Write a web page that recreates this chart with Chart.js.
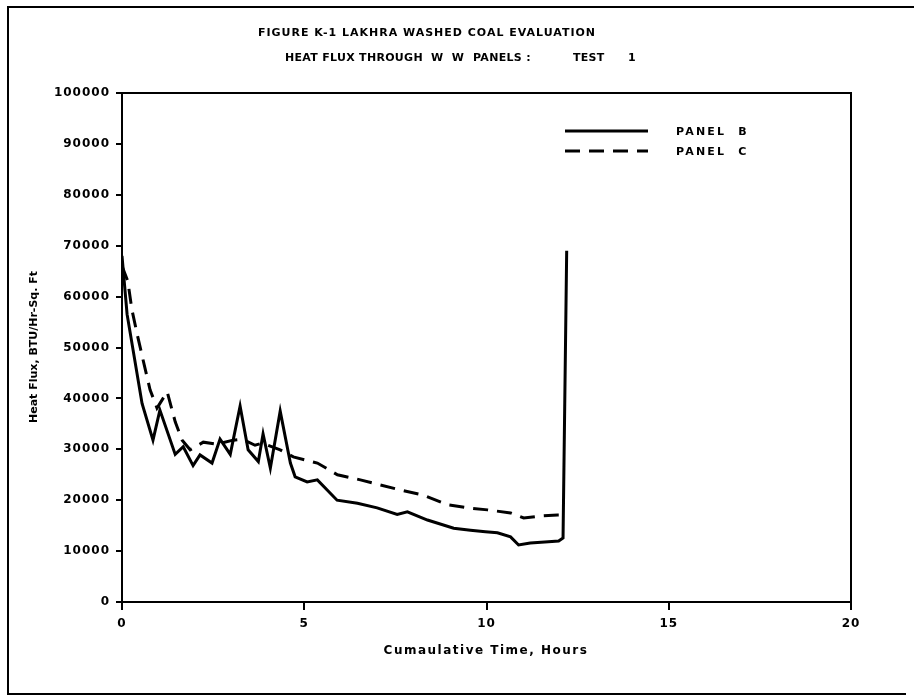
<!DOCTYPE html>
<html>
<head>
<meta charset="utf-8">
<script src="https://cdn.jsdelivr.net/npm/chart.js@4.4.1/dist/chart.umd.min.js"></script>
<style>
  html, body { margin: 0; padding: 0; background: #fff; }
  #c { display: block; }
</style>
</head>
<body>
<canvas id="c" width="914" height="700"></canvas>
<script>
// Heading lines (second line is set in separate words, plotter style)
const titleLine1 = 'FIGURE K-1 LAKHRA WASHED COAL EVALUATION';
const titleLine2 = ['HEAT FLUX THROUGH', 'W  W', 'PANELS :', 'TEST', '1'];
const xTitle = 'Cumaulative Time, Hours';
const yTitle = 'Heat Flux, BTU/Hr-Sq. Ft';
const seriesNames = ['PANEL  B', 'PANEL  C'];

// Axis ticks
const xTicks = [0, 5, 10, 15, 20];
const yTicks = [0, 10000, 20000, 30000, 40000, 50000, 60000, 70000, 80000, 90000, 100000];

// Panel B (solid)
const timesB = [0, 0.14, 0.55, 0.85, 1.04, 1.46, 1.68, 1.95, 2.14, 2.47, 2.69, 2.97, 3.24, 3.46, 3.74,
  3.87, 4.07, 4.34, 4.62, 4.75, 5.08, 5.36, 5.9, 6.46, 7.0, 7.55, 7.83, 8.38, 9.1, 9.56, 9.97, 10.3,
  10.66, 10.88, 11.2, 11.6, 11.98, 12.1, 12.2];
const fluxB = [68000, 56500, 39000, 31800, 37700, 29000, 30500, 26800, 28900, 27300, 32000, 29000, 38500,
  29900, 27600, 33000, 26300, 37500, 27300, 24600, 23600, 24000, 20000, 19400, 18500, 17200, 17700, 16100,
  14500, 14100, 13800, 13600, 12800, 11200, 11600, 11800, 12000, 12600, 69000];

// Panel C (dashed)
const timesC = [0, 0.16, 0.27, 0.41, 0.58, 0.77, 0.96, 1.24, 1.46, 1.65, 1.87, 2.23, 2.6, 3.05, 3.3, 3.65,
  3.85, 4.34, 4.7, 5.36, 5.91, 6.54, 7.09, 7.64, 8.27, 8.93, 9.48, 10.03, 10.66, 11.02, 11.48, 11.95, 12.12];
const fluxC = [66000, 63000, 57500, 52800, 47500, 41700, 38100, 41300, 35400, 31800, 29900, 31400, 31000,
  31800, 32000, 30800, 31200, 29900, 28500, 27300, 25000, 24000, 23000, 22000, 21000, 19100, 18500, 18100,
  17500, 16500, 16900, 17100, 17100];

const INK = '#000';
const DASH = [15, 9];
const FONT = 'DejaVu Sans';

const pairs = (xs, ys) => xs.map((x, i) => ({ x, y: ys[i] }));

// Blocky plotter lettering: slight tracking on all canvas text
const tracking = {
  id: 'tracking',
  beforeLayout(chart) { chart.ctx.letterSpacing = '1px'; },
  beforeDraw(chart) { chart.ctx.letterSpacing = '1px'; }
};

// Plot box, page border, headings, axis titles and legend
const decorations = {
  id: 'decorations',
  afterDraw(chart) {
    const { ctx, chartArea: a } = chart;
    ctx.save();
    ctx.strokeStyle = INK;
    ctx.fillStyle = INK;
    ctx.lineWidth = 2;
    ctx.setLineDash([]);
    ctx.strokeRect(a.left, a.top, a.right - a.left, a.bottom - a.top);

    // page border
    ctx.beginPath();
    ctx.moveTo(914, 7); ctx.lineTo(8, 7); ctx.lineTo(8, 694); ctx.lineTo(906, 694);
    ctx.stroke();

    // headings
    ctx.letterSpacing = '1px';
    ctx.font = `bold 11px "${FONT}"`;
    ctx.textAlign = 'center';
    ctx.textBaseline = 'middle';
    ctx.fillText(titleLine1, 427, 33);
    ctx.textAlign = 'left';
    ctx.letterSpacing = '0.3px';
    const wordX = [285, 431, 473, 573, 628];
    titleLine2.forEach((w, i) => ctx.fillText(w, wordX[i], 58));

    // axis titles
    ctx.font = `bold 12px "${FONT}"`;
    ctx.letterSpacing = '1.5px';
    ctx.textAlign = 'center';
    ctx.fillText(xTitle, 486, 651);
    ctx.save();
    ctx.translate(34, 347);
    ctx.rotate(-Math.PI / 2);
    ctx.font = `bold 11px "${FONT}"`;
    ctx.letterSpacing = '0px';
    ctx.fillText(yTitle, 0, 0);
    ctx.restore();

    // legend
    const lx0 = 565, lx1 = 648, tx = 676;
    const rows = [131, 151];
    ctx.lineWidth = 3;
    ctx.letterSpacing = '2.2px';
    chart.data.datasets.forEach((ds, i) => {
      ctx.setLineDash(ds.borderDash || []);
      ctx.beginPath();
      ctx.moveTo(lx0, rows[i]); ctx.lineTo(lx1, rows[i]);
      ctx.stroke();
      ctx.setLineDash([]);
      ctx.textAlign = 'left';
      ctx.font = `bold 11px "${FONT}"`;
      ctx.fillText(ds.label, tx, rows[i] + 1);
    });
    ctx.restore();
  }
};

new Chart(document.getElementById('c'), {
  type: 'line',
  data: {
    datasets: [
      {
        label: seriesNames[0],
        data: pairs(timesB, fluxB),
        borderColor: INK,
        borderWidth: 3,
        pointRadius: 0,
        tension: 0,
        fill: false
      },
      {
        label: seriesNames[1],
        data: pairs(timesC, fluxC),
        borderColor: INK,
        borderWidth: 3,
        borderDash: DASH,
        pointRadius: 0,
        tension: 0,
        fill: false
      }
    ]
  },
  options: {
    responsive: false,
    animation: false,
    devicePixelRatio: 1,
    layout: { padding: { left: 0, top: 93, right: 63, bottom: 0 } },
    plugins: {
      legend: { display: false },
      tooltip: { enabled: false },
      title: { display: false }
    },
    scales: {
      x: {
        type: 'linear',
        min: 0,
        max: 20,
        afterBuildTicks: s => { s.ticks = xTicks.map(v => ({ value: v })); },
        afterFit: s => { s.height = 98; },
        grid: { drawOnChartArea: false, drawTicks: true, tickLength: 8, color: INK, lineWidth: 2 },
        border: { display: true, color: INK, width: 2 },
        ticks: { color: INK, padding: 7, maxRotation: 0, font: { family: FONT, size: 12, weight: 'bold' } },
        title: { display: false }
      },
      y: {
        type: 'linear',
        min: 0,
        max: 100000,
        afterBuildTicks: s => { s.ticks = yTicks.map(v => ({ value: v })); },
        afterFit: s => { s.width = 122; },
        grid: { drawOnChartArea: false, drawTicks: true, tickLength: 6, color: INK, lineWidth: 2 },
        border: { display: true, color: INK, width: 2 },
        ticks: { color: INK, padding: 6, font: { family: FONT, size: 12, weight: 'bold' }, callback: v => String(v) },
        title: { display: false }
      }
    }
  },
  plugins: [tracking, decorations]
});
</script>
</body>
</html>
